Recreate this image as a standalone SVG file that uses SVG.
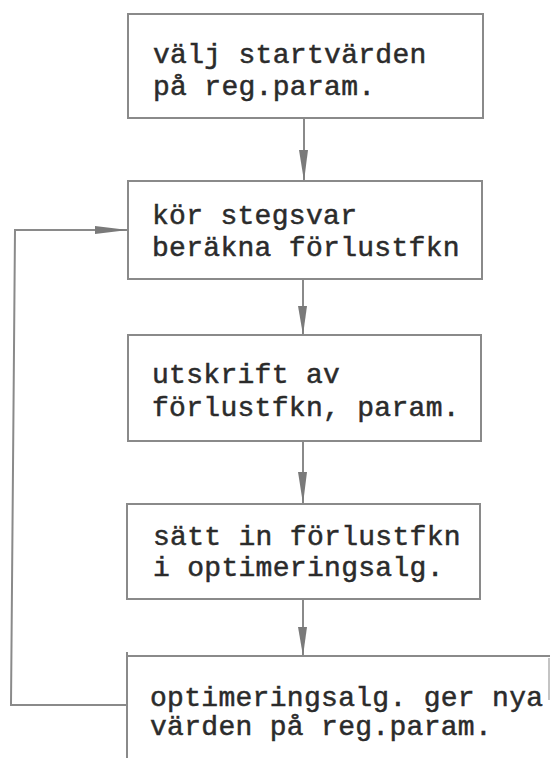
<svg xmlns="http://www.w3.org/2000/svg" width="550" height="758" viewBox="0 0 550 758">
  <style>
    .box { fill: none; stroke: #8a8a8a; stroke-width: 2; }
    .edge { fill: none; stroke: #8a8a8a; stroke-width: 2; }
    .head { fill: #7a7a7a; stroke: none; }
    .t { font-family: "Liberation Mono", "Courier New", monospace; font-size: 28px; letter-spacing: 0.3px; fill: #2b2b2b; stroke: #2b2b2b; stroke-width: 0.5; }
  </style>
  <rect width="550" height="758" fill="#ffffff"/>

  <g id="n1">
    <rect class="box" x="128" y="14" width="355" height="104"/>
    <text class="t" x="153" y="63">välj startvärden</text>
    <text class="t" x="153" y="95">på reg.param.</text>
  </g>

  <g id="n2">
    <rect class="box" x="128" y="181" width="354" height="98"/>
    <text class="t" x="152" y="224">kör stegsvar</text>
    <text class="t" x="152" y="256">beräkna förlustfkn</text>
  </g>

  <g id="n3">
    <rect class="box" x="128" y="335" width="353" height="106"/>
    <text class="t" x="152" y="383">utskrift av</text>
    <text class="t" x="152" y="416">förlustfkn, param.</text>
  </g>

  <g id="n4">
    <rect class="box" x="127" y="504" width="353" height="95"/>
    <text class="t" x="153" y="545">sätt in förlustfkn</text>
    <text class="t" x="153" y="576">i optimeringsalg.</text>
  </g>

  <g id="n5">
    <path class="box" d="M127 652 V758 M127 656 H550"/>
    <path d="M549 658 V700" stroke="#b0b0b0" stroke-width="1.5" fill="none"/>
    <text class="t" x="150" y="706">optimeringsalg. ger nya</text>
    <text class="t" x="150" y="735">värden på reg.param.</text>
  </g>

  <g id="connectors">
    <path class="edge" d="M304 118 V181"/>
    <polygon class="head" points="299,150 308,150 304,181"/>

    <path class="edge" d="M303 279 V335"/>
    <polygon class="head" points="298,306 307,306 303,335"/>

    <path class="edge" d="M303 441 V504"/>
    <polygon class="head" points="298,472 307,472 303,504"/>

    <path class="edge" d="M303 599 V656"/>
    <polygon class="head" points="298,627 307,627 303,656"/>

    <path class="edge" d="M127 705 H11 L15 230 H128"/>
    <polygon class="head" points="95,226 95,234 128,230"/>
  </g>
</svg>
